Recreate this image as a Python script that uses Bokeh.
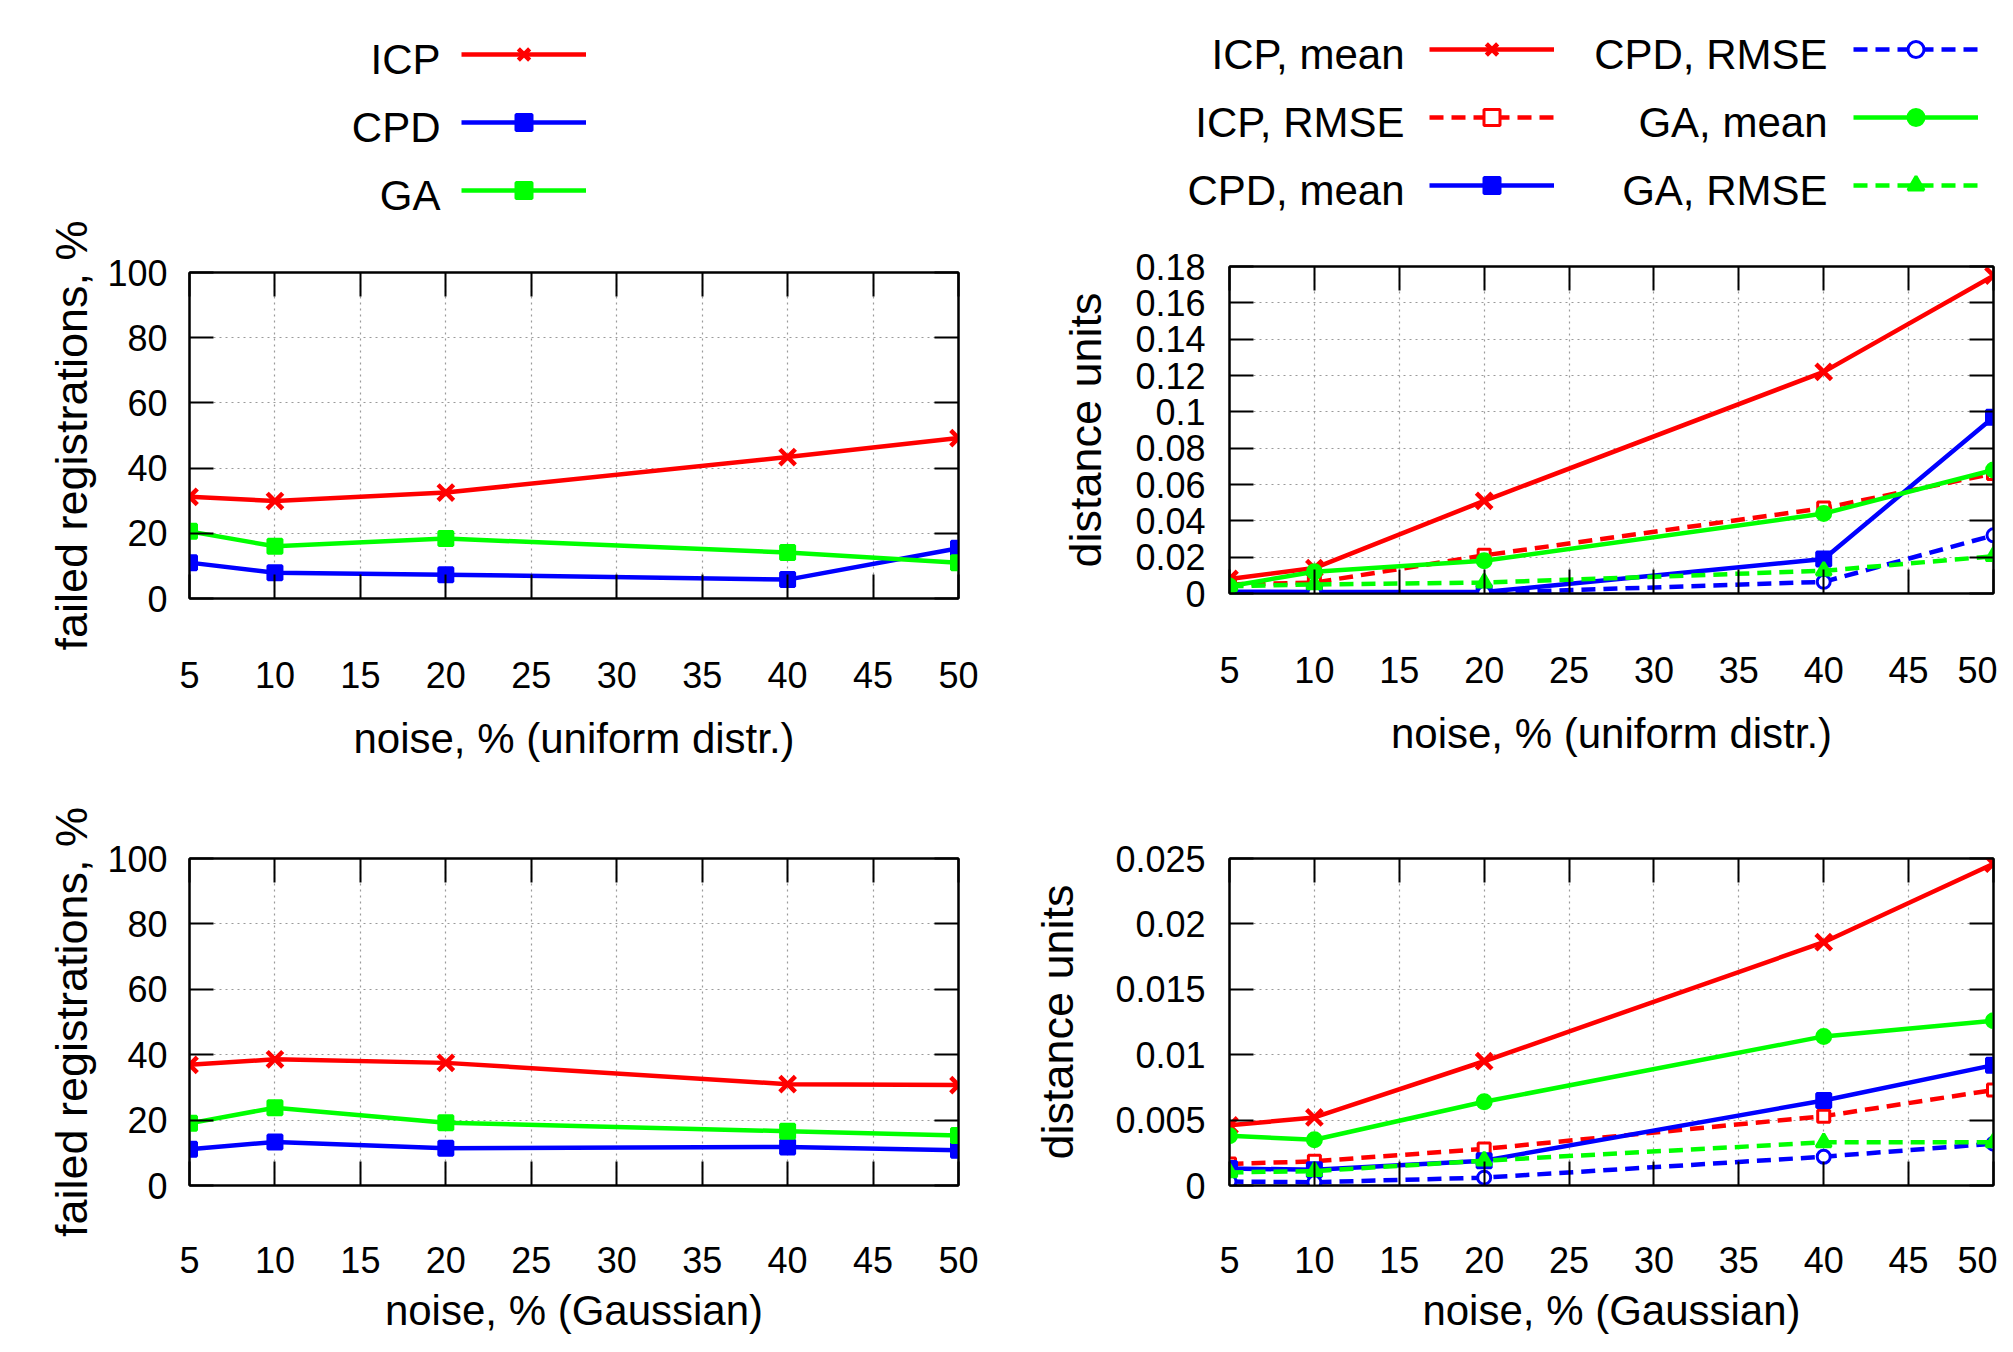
from bokeh.plotting import figure
from bokeh.models import FixedTicker, LinearAxis, Legend, LegendItem, Label, Range1d
from bokeh.layouts import column, row
from bokeh.embed import file_html
from bokeh.resources import INLINE

# ---------------- data ----------------
noise = [5, 10, 20, 40, 50]
x_ticks = [5, 10, 15, 20, 25, 30, 35, 40, 45, 50]

fail_ticks = [0, 20, 40, 60, 80, 100]
fail_tick_labels = ["0", "20", "40", "60", "80", "100"]
dist_u_ticks = [0, 0.02, 0.04, 0.06, 0.08, 0.1, 0.12, 0.14, 0.16, 0.18]
dist_u_tick_labels = ["0", "0.02", "0.04", "0.06", "0.08", "0.1", "0.12", "0.14", "0.16", "0.18"]
dist_g_ticks = [0, 0.005, 0.01, 0.015, 0.02, 0.025]
dist_g_tick_labels = ["0", "0.005", "0.01", "0.015", "0.02", "0.025"]

# failed registrations, % (uniform noise)
fail_u_icp = [31.2, 29.9, 32.5, 43.4, 49.2]
fail_u_cpd = [11.0, 7.9, 7.3, 5.8, 15.4]
fail_u_ga = [20.6, 16.0, 18.4, 14.1, 11.0]

# failed registrations, % (Gaussian noise)
fail_g_icp = [36.9, 38.6, 37.5, 31.0, 30.7]
fail_g_cpd = [11.1, 13.3, 11.4, 11.8, 10.8]
fail_g_ga = [19.0, 23.8, 19.2, 16.6, 15.3]

# distance units (uniform noise)
dist_u_icp_mean = [0.008, 0.014, 0.051, 0.122, 0.175]
dist_u_icp_rmse = [0.005, 0.006, 0.021, 0.047, 0.066]
dist_u_cpd_mean = [0.001, 0.0008, 0.0008, 0.019, 0.097]
dist_u_cpd_rmse = [0.0005, 0.0002, 0.0003, 0.0064, 0.032]
dist_u_ga_mean = [0.004, 0.012, 0.018, 0.044, 0.068]
dist_u_ga_rmse = [0.004, 0.005, 0.006, 0.0125, 0.0205]

# distance units (Gaussian noise)
dist_g_icp_mean = [0.0046, 0.0052, 0.0095, 0.0186, 0.0246]
dist_g_icp_rmse = [0.00165, 0.00185, 0.0028, 0.0053, 0.0073]
dist_g_cpd_mean = [0.0013, 0.0012, 0.0019, 0.0065, 0.0092]
dist_g_cpd_rmse = [0.0003, 0.00025, 0.0006, 0.0022, 0.0032]
dist_g_ga_mean = [0.0038, 0.0035, 0.0064, 0.0114, 0.0126]
dist_g_ga_rmse = [0.001, 0.0011, 0.0019, 0.0033, 0.0033]

legend_fail = ["ICP", "CPD", "GA"]
legend_dist_col1 = ["ICP, mean", "ICP, RMSE", "CPD, mean"]
legend_dist_col2 = ["CPD, RMSE", "GA, mean", "GA, RMSE"]

# ---------------- style ----------------
FONT = "Liberation Sans"
RED, BLUE, GREEN = "#ff0000", "#0000ff", "#00ff00"
DASH = "14 8"
LW = 4.5

# (values, colour, dash, marker, fill, size, marker line width)
fail_u_series = [(fail_u_icp, RED, "solid", "x", RED, 22, 4.5),
                 (fail_u_cpd, BLUE, "solid", "square", BLUE, 14, 3),
                 (fail_u_ga, GREEN, "solid", "square", GREEN, 14, 3)]
fail_g_series = [(fail_g_icp, RED, "solid", "x", RED, 22, 4.5),
                 (fail_g_cpd, BLUE, "solid", "square", BLUE, 14, 3),
                 (fail_g_ga, GREEN, "solid", "square", GREEN, 14, 3)]
dist_u_series = [(dist_u_icp_mean, RED, "solid", "x", RED, 22, 4.5),
                 (dist_u_icp_rmse, RED, DASH, "square", "white", 12, 3),
                 (dist_u_cpd_mean, BLUE, "solid", "square", BLUE, 14, 3),
                 (dist_u_cpd_rmse, BLUE, DASH, "circle", "white", 13, 3),
                 (dist_u_ga_mean, GREEN, "solid", "circle", GREEN, 14, 3),
                 (dist_u_ga_rmse, GREEN, DASH, "triangle", GREEN, 15, 3)]
dist_g_series = [(dist_g_icp_mean, RED, "solid", "x", RED, 22, 4.5),
                 (dist_g_icp_rmse, RED, DASH, "square", "white", 12, 3),
                 (dist_g_cpd_mean, BLUE, "solid", "square", BLUE, 14, 3),
                 (dist_g_cpd_rmse, BLUE, DASH, "circle", "white", 13, 3),
                 (dist_g_ga_mean, GREEN, "solid", "circle", GREEN, 14, 3),
                 (dist_g_ga_rmse, GREEN, DASH, "triangle", GREEN, 15, 3)]


def style_axis(ax, tick_size="36px"):
    ax.major_tick_in = 24
    ax.major_tick_out = 0
    ax.minor_tick_line_color = None
    ax.axis_line_color = "black"
    ax.axis_line_width = 2
    ax.major_tick_line_color = "black"
    ax.major_tick_line_width = 2
    ax.major_label_text_font = FONT
    ax.major_label_text_font_size = tick_size
    ax.major_label_text_color = "black"


def make_fig(w, h, ymax, yticks, ylabels, xlabel, ylabel, borders,
             ytick_standoff, ylab_standoff, xtick_standoff, xlab_standoff, ylab_size="45px"):
    left, right, top, bottom = borders
    p = figure(width=w, height=h, x_range=Range1d(5, 50), y_range=Range1d(0, ymax),
               output_backend="svg", toolbar_location=None, title=None,
               min_border_left=left, min_border_right=right,
               min_border_top=top, min_border_bottom=bottom,
               x_axis_label=xlabel, y_axis_label=ylabel)
    p.outline_line_color = "black"
    p.outline_line_width = 2
    p.background_fill_color = "white"
    p.border_fill_color = "white"

    xa = p.xaxis[0]
    ya = p.yaxis[0]
    xa.ticker = FixedTicker(ticks=x_ticks)
    ya.ticker = FixedTicker(ticks=yticks)
    ya.major_label_overrides = dict(zip(yticks, ylabels))
    style_axis(xa)
    style_axis(ya)
    xa.major_label_standoff = xtick_standoff
    ya.major_label_standoff = ytick_standoff
    xa.axis_label_standoff = xlab_standoff
    ya.axis_label_standoff = ylab_standoff
    xa.axis_label_text_font = FONT
    xa.axis_label_text_font_size = "42px"
    xa.axis_label_text_font_style = "normal"
    xa.axis_label_text_color = "black"
    ya.axis_label_text_font = FONT
    ya.axis_label_text_font_size = ylab_size
    ya.axis_label_text_font_style = "normal"
    ya.axis_label_text_color = "black"

    # mirrored inward ticks on top and right
    top_ax = LinearAxis(ticker=FixedTicker(ticks=x_ticks))
    style_axis(top_ax, "0px")
    top_ax.major_label_text_color = None
    top_ax.major_label_standoff = 0
    p.add_layout(top_ax, "above")
    right_ax = LinearAxis(ticker=FixedTicker(ticks=yticks))
    style_axis(right_ax, "0px")
    right_ax.major_label_text_color = None
    right_ax.major_label_standoff = 0
    p.add_layout(right_ax, "right")

    for g in (p.xgrid[0], p.ygrid[0]):
        g.grid_line_color = "#9a9a9a"
        g.grid_line_dash = "2 4"
        g.grid_line_width = 1.2
    return p


def draw_series(p, spec):
    y, color, dash, marker, fill, size, mlw = spec
    r1 = p.line(noise, y, line_color=color, line_width=LW, line_dash=dash, line_join="round")
    r2 = p.scatter(noise, y, marker=marker, size=size, line_color=color,
                   fill_color=fill, line_width=mlw)
    return [r1, r2]


def legend_fig(w, h):
    # a frame-only figure holding the legends; its ranges keep the series out of view
    p = figure(width=w, height=h, x_range=Range1d(0, 1), y_range=Range1d(-1000, -999),
               output_backend="svg", toolbar_location=None, title=None, min_border=0,
               x_axis_location=None, y_axis_location=None)
    p.outline_line_color = None
    p.background_fill_color = "white"
    p.border_fill_color = "white"
    for g in p.grid:
        g.visible = False
    return p


def add_legend(p, items, vx, vy):
    leg = Legend(items=[LegendItem(label=" ", renderers=r) for r in items],
                 location=(vx, vy), glyph_width=125, glyph_height=40, spacing=28,
                 padding=0, margin=0, border_line_color=None, background_fill_alpha=0,
                 label_text_color=None, label_text_font_size="1px",
                 label_standoff=0, label_width=0, label_height=0)
    p.add_layout(leg)


def add_legend_text(p, texts, x, ys):
    for t, y in zip(texts, ys):
        p.add_layout(Label(x=x, y=y, x_units="screen", y_units="screen", text=t,
                           text_align="right", text_baseline="alphabetic",
                           text_font=FONT, text_font_size="42px", text_color="black"))


# ---------------- left column ----------------
lg_l = legend_fig(1000, 220)
lg_l_items = [draw_series(lg_l, s) for s in fail_u_series]
add_legend(lg_l, lg_l_items, 461, 10)
add_legend_text(lg_l, legend_fail, 440, [161, 93, 25])

tl = make_fig(1000, 566, 100, fail_ticks, fail_tick_labels,
              "noise, % (uniform distr.)", "failed registrations, %",
              (189, 42, 52, 188), 22, 7, 63, 24)
for s in fail_u_series:
    draw_series(tl, s)

bl = make_fig(1000, 550, 100, fail_ticks, fail_tick_labels,
              "noise, % (Gaussian)", "failed registrations, %",
              (189, 42, 72, 150), 22, 7, 61, 11)
for s in fail_g_series:
    draw_series(bl, s)

# ---------------- right column ----------------
lg_r = legend_fig(997, 228)
lg_r_items = [draw_series(lg_r, s) for s in dist_u_series]
add_legend(lg_r, lg_r_items[:3], 429, 23)
add_legend(lg_r, lg_r_items[3:], 853, 23)
add_legend_text(lg_r, legend_dist_col1, 404, [174, 106, 38])
add_legend_text(lg_r, legend_dist_col2, 827, [174, 106, 38])

tr = make_fig(997, 558, 0.18, dist_u_ticks, dist_u_tick_labels,
              "noise, % (uniform distr.)", "distance units",
              (229, 4, 38, 193), 24, 21, 63, 24)
for s in dist_u_series:
    draw_series(tr, s)

br = make_fig(997, 550, 0.025, dist_g_ticks, dist_g_tick_labels,
              "noise, % (Gaussian)", "distance units",
              (229, 4, 72, 151), 24, 29, 61, 11)
for s in dist_g_series:
    draw_series(br, s)

layout = row(column(row(lg_l), tl, bl), column(row(lg_r), tr, br))
open("out.html", "w").write(file_html(layout, INLINE))
